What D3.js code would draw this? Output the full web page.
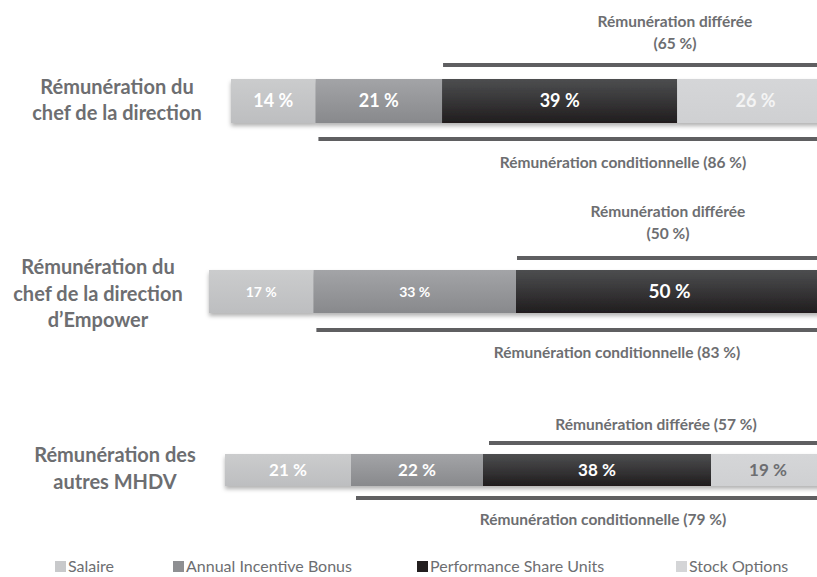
<!DOCTYPE html>
<html>
<head>
<meta charset="utf-8">
<script src="https://cdn.jsdelivr.net/npm/d3@7"></script>
<style>
  body { margin: 0; background: #fff; }
  svg { display: block; font-family: Lato, "Open Sans", sans-serif; }
</style>
</head>
<body>
<div id="chart"></div>
<script>
// data
const rowLabels = [
    ["Rémunération du", "chef de la direction"],
    ["Rémunération du", "chef de la direction", "d’Empower"],
    ["Rémunération des", "autres MHDV"]
];
const categories = ["Salaire", "Annual Incentive Bonus", "Performance Share Units", "Stock Options"];
const salaire = [14, 17, 21];
const bonus = [21, 33, 22];
const psu = [39, 50, 38];
const options = [26, 0, 19];
const deferred = [65, 50, 57];
const conditional = [86, 83, 79];

// layout per row (not data)
const layout = [
    {x0: 231, span: 603, y: 79, h: 44, labelY: 93.5, labelX: 117, lab: [18, 18, 18, 18],
     topY: 65, botY: 139, defOff: 1, condOff: 3, defX: 675, defY: [27, 49], condX: 623, condY: 168},
    {x0: 209, span: 614, y: 270, h: 43, labelY: 274, labelX: 98, lab: [14, 14, 19, 19],
     topY: 258, botY: 330, defOff: 1, condOff: 3, defX: 668, defY: [217, 239], condX: 617, condY: 358},
    {x0: 225, span: 600, y: 454, h: 32, labelY: 462, labelX: 115, lab: [17, 17, 17, 17],
     topY: 443, botY: 498, defOff: 6, condOff: 5, defX: 656, defY: [430], condX: 603, condY: 525}
];

const width = 817, height = 577;
const grey = "#6d6e71";
const lineColor = "#5f5f61";

const svg = d3.select("#chart").append("svg")
    .attr("width", width)
    .attr("height", height);

const defs = svg.append("defs");

// gradients for segments
const gradStops = [
    ["#cbcccd", "#bdbec0"],
    ["#a3a4a7", "#88898c"],
    ["#4d4e50", "#201d1e"],
    ["#d5d6d8", "#cfd0d2"]
];
gradStops.forEach((s, i) => {
    let g = defs.append("linearGradient")
        .attr("id", "grad" + i)
        .attr("x1", 0).attr("y1", 0).attr("x2", 0).attr("y2", 1);
    g.append("stop").attr("offset", "0%").attr("stop-color", s[0]);
    g.append("stop").attr("offset", "100%").attr("stop-color", s[1]);
});

const shadow = defs.append("filter")
    .attr("id", "shadow")
    .attr("x", "-5%").attr("y", "-20%")
    .attr("width", "110%").attr("height", "160%");
shadow.append("feDropShadow")
    .attr("dx", 0).attr("dy", 3)
    .attr("stdDeviation", 2)
    .attr("flood-color", "#000")
    .attr("flood-opacity", 0.3);

const labelColors = ["#ffffff", "#ffffff", "#ffffff", "#f4f4f4"];

rowLabels.forEach((lines, r) => {
    let L = layout[r];
    // scale: percent -> pixels for this row
    let x = d3.scaleLinear().domain([0, 100]).range([L.x0, L.x0 + L.span]);
    let values = [salaire[r], bonus[r], psu[r], options[r]];
    let cum = d3.cumsum(values);
    let segs = values.map((v, i) => ({v: v, i: i, start: cum[i] - v}))
        .filter(d => d.v > 0);

    let g = svg.append("g").attr("class", "row");

    // row label
    let lab = g.append("text")
        .attr("text-anchor", "middle")
        .attr("fill", grey)
        .style("font-size", "20px")
        .style("font-weight", "bold");
    lines.forEach((t, k) => {
        lab.append("tspan")
            .attr("x", L.labelX)
            .attr("y", L.labelY + k * 26.5)
            .text(t);
    });

    // bars
    let bars = g.append("g").attr("filter", "url(#shadow)");
    bars.selectAll("rect")
        .data(segs)
        .enter()
        .append("rect")
        .attr("x", d => x(d.start))
        .attr("y", L.y)
        .attr("width", d => x(d.start + d.v) - x(d.start))
        .attr("height", L.h)
        .attr("fill", d => "url(#grad" + d.i + ")");

    g.selectAll(".seg-label")
        .data(segs)
        .enter()
        .append("text")
        .attr("class", "seg-label")
        .attr("x", d => x(d.start + d.v / 2))
        .attr("y", L.y + L.h / 2)
        .attr("dy", "0.36em")
        .attr("text-anchor", "middle")
        .attr("fill", d => (r === 2 && d.i === 3) ? grey : labelColors[d.i])
        .style("font-size", d => L.lab[d.i] + "px")
        .style("font-weight", "bold")
        .text(d => d.v + " %");

    // deferred line: PSU + options
    let defStart = x(salaire[r] + bonus[r]) + L.defOff;
    g.append("line")
        .attr("x1", defStart).attr("x2", width)
        .attr("y1", L.topY).attr("y2", L.topY)
        .attr("stroke", lineColor)
        .attr("stroke-width", 4);

    // conditional line: everything except salary
    let condStart = x(salaire[r]) + L.condOff;
    g.append("line")
        .attr("x1", condStart).attr("x2", width)
        .attr("y1", L.botY).attr("y2", L.botY)
        .attr("stroke", lineColor)
        .attr("stroke-width", 4);

    // annotations
    let defText = L.defY.length > 1
        ? ["Rémunération différée", "(" + deferred[r] + " %)"]
        : ["Rémunération différée (" + deferred[r] + " %)"];
    let dt = g.append("text")
        .attr("text-anchor", "middle")
        .attr("fill", grey)
        .style("font-size", "15.5px")
        .style("font-weight", "bold");
    defText.forEach((t, k) => {
        dt.append("tspan").attr("x", L.defX).attr("y", L.defY[k]).text(t);
    });

    g.append("text")
        .attr("x", L.condX)
        .attr("y", L.condY)
        .attr("text-anchor", "middle")
        .attr("fill", grey)
        .style("font-size", "15.5px")
        .style("font-weight", "bold")
        .text("Rémunération conditionnelle (" + conditional[r] + " %)");
});

// legend
const legendX = [55, 173, 417, 676];
const legendFill = ["#c8c9cb", "#8e8f92", "#231f20", "#d4d5d7"];
let legend = svg.append("g").attr("class", "legend");
let items = legend.selectAll("g")
    .data(categories)
    .enter()
    .append("g")
    .attr("transform", (d, i) => `translate(${legendX[i]}, 561)`);
items.append("rect")
    .attr("width", 11)
    .attr("height", 11)
    .attr("fill", (d, i) => legendFill[i]);
items.append("text")
    .attr("x", 13)
    .attr("y", 11)
    .attr("fill", grey)
    .style("font-size", "16px")
    .text(d => d);
</script>
</body>
</html>
